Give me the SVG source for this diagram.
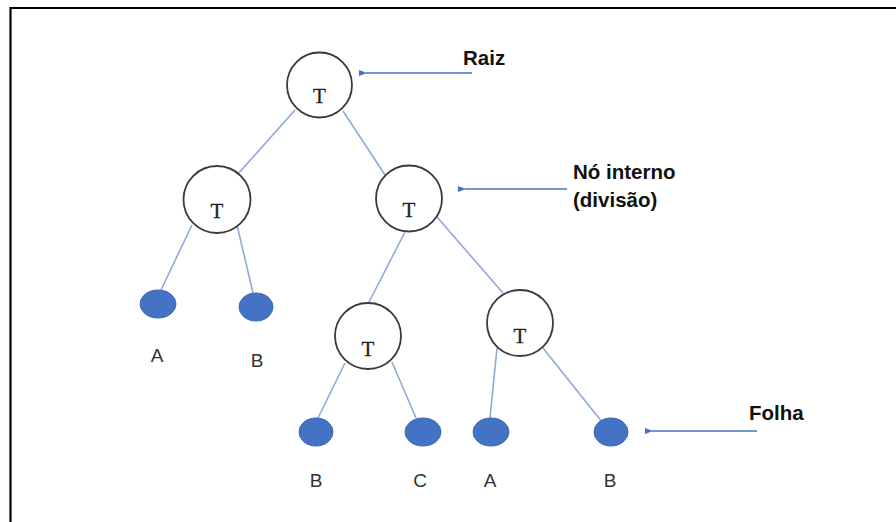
<svg xmlns="http://www.w3.org/2000/svg" width="896" height="522" viewBox="0 0 896 522">
<style>
.node{fill:#fff;stroke:#3a3a3a;stroke-width:1.8}
.leaf{fill:#4472c4;stroke:#3b66b3;stroke-width:1}
.edge{stroke:#8eaadb;stroke-width:1.6;fill:none}
.ptr{stroke:#4472c4;stroke-width:1.5;fill:none;marker-end:url(#ah)}
.t{font-family:"Liberation Serif",serif;font-size:21px;fill:#222;text-anchor:middle;stroke:#222;stroke-width:0.3}
.lbl{font-family:"Liberation Sans",Arial,sans-serif;font-size:19px;fill:#333;text-anchor:middle}
.note{font-family:"Liberation Sans",Arial,sans-serif;font-size:20.5px;font-weight:bold;fill:#111}
</style>
<defs>
<marker id="ah" markerWidth="8" markerHeight="6" refX="1" refY="3" orient="auto" markerUnits="userSpaceOnUse">
<path d="M8,0 L0,3 L8,6 Z" fill="#4472c4"/>
</marker>
</defs>
<rect width="896" height="522" fill="#fff"/>
<path d="M10.5,522 V8 H896" fill="none" stroke="#000" stroke-width="2.2"/>
<g id="connectors">
<line class="edge" x1="295" y1="110" x2="237" y2="175"/>
<line class="edge" x1="343" y1="111" x2="385" y2="175"/>
<line class="edge" x1="192" y1="225" x2="161" y2="290"/>
<line class="edge" x1="237" y1="225" x2="253" y2="293"/>
<line class="edge" x1="405" y1="232" x2="368" y2="304"/>
<line class="edge" x1="437" y1="217" x2="503" y2="293"/>
<line class="edge" x1="345" y1="363" x2="318" y2="418"/>
<line class="edge" x1="392" y1="362" x2="416" y2="418"/>
<line class="edge" x1="497" y1="348" x2="490" y2="418"/>
<line class="edge" x1="543" y1="348" x2="602" y2="422"/>
<line class="ptr" x1="472" y1="73" x2="366" y2="73"/>
<line class="ptr" x1="567" y1="189" x2="465" y2="189"/>
<line class="ptr" x1="757" y1="431" x2="652" y2="431"/>
</g>
<g id="root"><circle class="node" cx="319.5" cy="85" r="32.5"/><text class="t" x="319.5" y="103">T</text></g>
<g id="t-left"><circle class="node" cx="217" cy="199.5" r="33.5"/><text class="t" x="217" y="218">T</text></g>
<g id="t-right"><circle class="node" cx="409" cy="198.5" r="33"/><text class="t" x="409" y="217">T</text></g>
<g id="t-ll"><circle class="node" cx="368" cy="336" r="33"/><text class="t" x="368" y="356">T</text></g>
<g id="t-lr"><circle class="node" cx="520" cy="323" r="33"/><text class="t" x="520" y="343">T</text></g>
<g id="leaf-a1"><ellipse class="leaf" cx="158" cy="304" rx="18" ry="14"/><text class="lbl" x="157" y="362">A</text></g>
<g id="leaf-b1"><ellipse class="leaf" cx="256" cy="307" rx="17" ry="14"/><text class="lbl" x="257" y="367">B</text></g>
<g id="leaf-b2"><ellipse class="leaf" cx="316" cy="432" rx="17" ry="14"/><text class="lbl" x="316" y="487">B</text></g>
<g id="leaf-c"><ellipse class="leaf" cx="423" cy="432" rx="18" ry="14"/><text class="lbl" x="420" y="487">C</text></g>
<g id="leaf-a2"><ellipse class="leaf" cx="491" cy="432" rx="18" ry="14"/><text class="lbl" x="490" y="487">A</text></g>
<g id="leaf-b3"><ellipse class="leaf" cx="611" cy="432" rx="17" ry="14"/><text class="lbl" x="610" y="487">B</text></g>
<g id="note-raiz"><text class="note" x="463" y="65">Raiz</text></g>
<g id="note-interno"><text class="note" x="573" y="179">Nó interno</text><text class="note" x="573" y="207">(divisão)</text></g>
<g id="note-folha"><text class="note" x="749" y="420">Folha</text></g>
</svg>
